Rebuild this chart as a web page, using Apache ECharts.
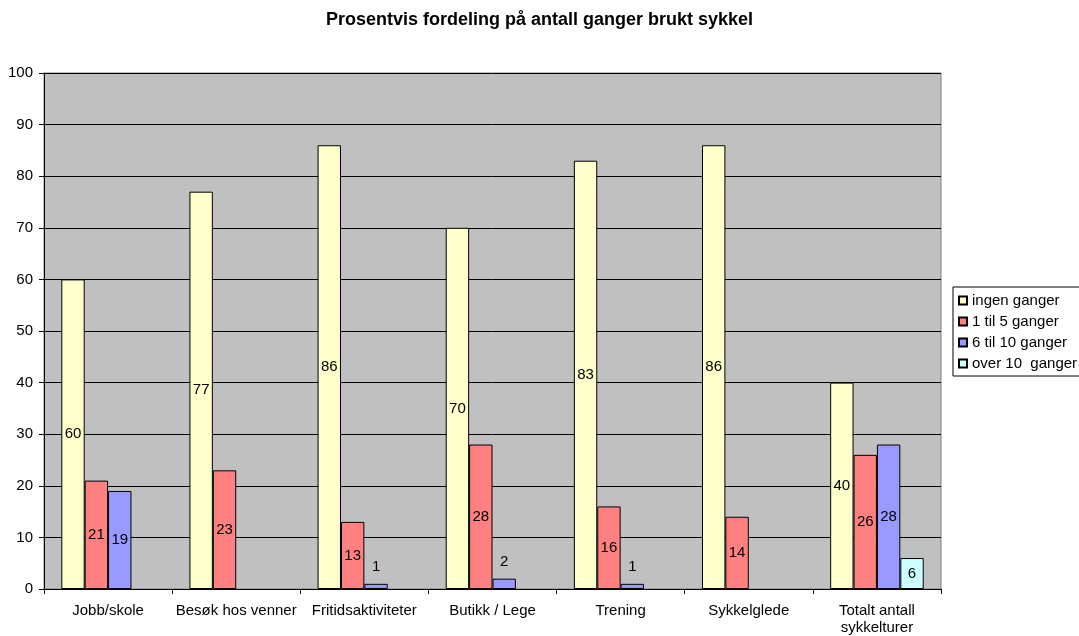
<!DOCTYPE html>
<html>
<head>
<meta charset="utf-8">
<script src="https://cdn.jsdelivr.net/npm/echarts@6/dist/echarts.min.js"></script>
<style>
  html, body { margin: 0; padding: 0; background: #fff; }
  #chart { width: 1079px; height: 636px; }
</style>
</head>
<body>
<div id="chart"></div>
<script>
// Categories and per-series percentages (null = no bar)
const categories = ['Jobb/skole', 'Besøk hos venner', 'Fritidsaktiviteter', 'Butikk / Lege', 'Trening', 'Sykkelglede', 'Totalt antall\nsykkelturer'];
const ingenGanger = [60, 77, 86, 70, 83, 86, 40];
const en_til_5 = [21, 23, 13, 28, 16, 14, 26];
const seks_til_10 = [19, null, 1, 2, 1, null, 28];
const over10 = [null, null, null, null, null, null, 6];
const seriesNames = ['ingen ganger', '1 til 5 ganger', '6 til 10 ganger', 'over 10  ganger'];
const seriesColors = ['#FFFFCC', '#FF8080', '#9999FF', '#CCFFFF'];
const yTicks = [0, 10, 20, 30, 40, 50, 60, 70, 80, 90, 100];

const FONT = 'Liberation Sans, Arial, sans-serif';

// Very short bars carry their value label above the bar instead of inside
function makeData(arr) {
  return arr.map(v => {
    if (v === null) return null;
    if (v < 4) {
      return { value: v, label: { position: 'top', distance: 9 } };
    }
    return v;
  });
}

const chart = echarts.init(document.getElementById('chart'));
chart.setOption({
  animation: false,
  backgroundColor: '#ffffff',
  title: {
    text: 'Prosentvis fordeling på antall ganger brukt sykkel',
    left: 'center',
    top: 11,
    padding: 0,
    textStyle: { fontFamily: FONT, fontSize: 18, fontWeight: 'bold', color: '#000' }
  },
  legend: {
    orient: 'vertical',
    left: 953,
    top: 287,
    width: 130,
    padding: [6, 10, 5, 5],
    itemGap: 6,
    itemWidth: 8,
    itemHeight: 8,
    icon: 'rect',
    borderColor: '#000',
    borderWidth: 1,
    backgroundColor: '#fff',
    textStyle: { fontFamily: FONT, fontSize: 15, lineHeight: 15, color: '#000' },
    data: seriesNames
  },
  grid: {
    left: 44,
    right: 138,
    top: 73,
    bottom: 45,
    show: true,
    backgroundColor: '#C0C0C0',
    borderColor: '#808080',
    borderWidth: 1
  },
  xAxis: {
    type: 'category',
    data: categories,
    axisLine: { lineStyle: { color: '#000', width: 1 } },
    axisTick: { show: true, length: 5, lineStyle: { color: '#000' } },
    axisLabel: {
      fontFamily: FONT, fontSize: 15, color: '#000', margin: 13, lineHeight: 17, interval: 0
    }
  },
  yAxis: {
    type: 'value',
    min: yTicks[0],
    max: yTicks[yTicks.length - 1],
    interval: 10,
    axisLine: { show: true, lineStyle: { color: '#000', width: 1 } },
    axisTick: { show: true, length: 5, lineStyle: { color: '#000' } },
    splitLine: { show: true, lineStyle: { color: '#000', width: 1 } },
    axisLabel: { fontFamily: FONT, fontSize: 15, color: '#000', margin: 11 }
  },
  series: [ingenGanger, en_til_5, seks_til_10, over10].map((arr, i) => ({
    name: seriesNames[i],
    type: 'bar',
    data: makeData(arr),
    barGap: '0%',
    barCategoryGap: '27%',
    itemStyle: { color: seriesColors[i], borderColor: '#000', borderWidth: 1 },
    label: {
      show: true,
      position: 'inside',
      fontFamily: FONT,
      fontSize: 15,
      color: '#000'
    }
  }))
});
</script>
</body>
</html>
